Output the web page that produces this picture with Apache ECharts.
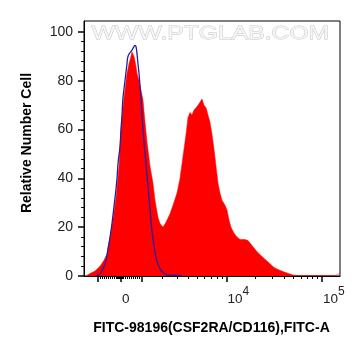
<!DOCTYPE html>
<html><head><meta charset="utf-8">
<script src="https://cdn.jsdelivr.net/npm/echarts@6/dist/echarts.min.js"></script>
<style>html,body{margin:0;padding:0;background:#fff}#c{width:361px;height:356px}</style>
</head><body><div id="c"></div>
<script>
// x values are display channels of the biexponential FITC-A axis (0..256)
const redCh  = [2,6,11,16,20,23,27,30,32,35,37,40,43,45,47,48,50,52,53,55,57,59,61,63,66,69,71,74,76,79,82,86,89,93,96,99,102,104,106,108,110,112,114,116,118,120,122,124,126,128,130,132,134,136,138,141,143,145,147,150,153,156,161,164,167,171,174,178,182,186,190,195,201,206,210,216,246,251,254,256];
const redVal = [0,1,2,4,6.5,9,18,26,32,45,60,73,83,87,90,91.8,90,86,83,80,76,72,63,55,45,38,31,24,21.5,20,22,25.5,29,34,40,49,58,65,67,66,68,69,70,70,72.5,70,69,66,63,58,52,45,38,34,31,29,27,23,20,17.5,16,15,15,14.5,13,11,9.5,8,6.5,5,3.5,2.5,1.5,0.8,0.3,0.2,0.2,0.2,0.6,1.3];
const blueCh  = [12,16,21,24,27,29,31,33,34,36,37,38,39,41,43,44,46,48,50,51,52,53,54,55,56,57,59,62,65,68,71,73,76,79,82,86,92,98];
const blueVal = [0,0.8,5,11,18.5,25,32,40,46,53,60,66,73,80,87,90,91.5,92.6,94,94.5,94,91,87,83,78,73,60,46,32,18.5,10,6,3,1.5,0.6,0.3,0.2,0];

const xLabelCh = [37, 142.5, 238];
const xLabels  = ['0', '10|4', '10|5'];
const xMajorCh = [14, 37, 58, 142.5, 238];
const xMinorCh = [16,18,20,22,24,26,28,30,32,33.5,34.5,35.5,36.5,37.5,38.5,39.5,41,43,45,47,49,51,53,55,78,93,104,113,120,127,133,138,171.2,188.1,200,209.3,216.8,223.2,228.7,233.6];
const yMajor = [0,20,40,60,80,100];
const yMinor = [4,8,12,16,24,28,32,36,44,48,52,56,64,68,72,76,84,88,92,96];

const redData = redCh.map((x,i)=>[x, redVal[i]]);
const blueData = blueCh.map((x,i)=>[x, blueVal[i]]);
const FONT = 'Liberation Sans, Arial, Helvetica, sans-serif';
const YMAX = 104.5;

const chart = echarts.init(document.getElementById('c'), null, {renderer:'canvas'});
chart.setOption({
  animation:false,
  backgroundColor:'#fff',
  grid:[
    {left:84, right:21, top:21, bottom:80, show:true, borderColor:'#000', borderWidth:1, backgroundColor:'transparent'},
    {left:84, right:21, top:21, bottom:80, show:false}
  ],
  xAxis:[
    {type:'value', gridIndex:0, min:0, max:256,
     axisLine:{show:true, onZero:false, lineStyle:{color:'#000', width:1}},
     axisTick:{show:true, length:6, customValues:xMajorCh, lineStyle:{color:'#000', width:1.5}},
     axisLabel:{show:true, customValues:xLabelCh, margin:10, align:'left', padding:[0,0,0,1],
       formatter:(v)=>{ const i = xLabelCh.indexOf(v); if(i<0) return ''; const p = xLabels[i].split('|');
         return p.length>1 ? '{b|'+p[0]+'}{s|'+p[1]+'}' : '{b|'+p[0]+'}{s| }'; },
       rich:{ b:{fontSize:13.5, fontFamily:FONT, color:'#222', verticalAlign:'bottom'},
              s:{fontSize:12, fontFamily:FONT, color:'#222', verticalAlign:'bottom', padding:[0,0,8,0]} } },
     splitLine:{show:false}},
    {type:'value', gridIndex:1, min:0, max:256,
     axisLine:{show:false, onZero:false},
     axisTick:{show:true, length:3, customValues:xMinorCh, lineStyle:{color:'#000', width:1}},
     axisLabel:{show:false}, splitLine:{show:false}}
  ],
  yAxis:[
    {type:'value', gridIndex:0, min:0, max:YMAX,
     axisLine:{show:true, onZero:false, lineStyle:{color:'#000', width:1}},
     axisTick:{show:true, length:6, customValues:yMajor, lineStyle:{color:'#000', width:1.5}},
     axisLabel:{show:true, customValues:yMajor, margin:11, fontSize:14, fontFamily:FONT, color:'#222'},
     splitLine:{show:false}},
    {type:'value', gridIndex:1, min:0, max:YMAX,
     axisLine:{show:false, onZero:false},
     axisTick:{show:true, length:3, customValues:yMinor, lineStyle:{color:'#000', width:1}},
     axisLabel:{show:false}, splitLine:{show:false}}
  ],
  series:[
    {type:'line', xAxisIndex:0, yAxisIndex:0, data:redData, symbol:'none', smooth:false,
     lineStyle:{color:'#ff0000', width:0.5}, areaStyle:{color:'#ff0000', opacity:1}, z:2},
    {type:'line', xAxisIndex:0, yAxisIndex:0, data:blueData, symbol:'none', smooth:true,
     lineStyle:{color:'#2a1aa0', width:1.3}, z:3}
  ],
  graphic:[
    {type:'text', x:210.5, y:34, scaleX:1.3, z:1,
     style:{text:'WWW.PTGLAB.COM', font:'19px '+FONT, fill:'#f6f6f6', stroke:'#c4c4c4', lineWidth:0.8, align:'center', verticalAlign:'middle'}},
    {type:'text', x:27, y:143, rotation:Math.PI/2,
     style:{text:'Relative Number Cell', font:'bold 14px '+FONT, fill:'#000', align:'center', verticalAlign:'middle'}},
    {type:'text', x:211.5, y:328,
     style:{text:'FITC-98196(CSF2RA/CD116),FITC-A', font:'bold 14px '+FONT, fill:'#000', align:'center', verticalAlign:'middle'}}
  ]
});
</script></body></html>
